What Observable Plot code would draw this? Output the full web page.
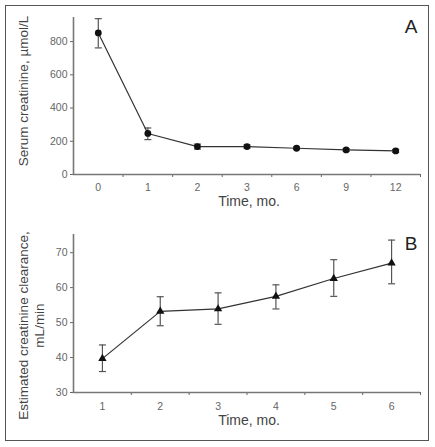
<!DOCTYPE html>
<html>
<head>
<meta charset="utf-8">
<script src="https://cdn.jsdelivr.net/npm/d3@7"></script>
<script src="https://cdn.jsdelivr.net/npm/@observablehq/plot@0.6"></script>
<style>
  body { margin: 0; background: #fff; }
  #wrap { position: relative; width: 435px; height: 447px; font-family: "Liberation Sans", Arial, Helvetica, sans-serif; }
  #frame { position: absolute; left: 5px; top: 5px; width: 422px; height: 434px; border: 1.5px solid #555; }
  .panel { position: absolute; left: 0; }
</style>
</head>
<body>
<div id="wrap"><div id="frame"></div></div>
<script>
// Panel A: serum creatinine
const monthsA = ["0", "1", "2", "3", "6", "9", "12"];
const creatMean = [852, 247, 168, 168, 158, 148, 142];
const creatLow  = [762, 210, 153, 158, 150, 140, 133];
const creatHigh = [938, 280, 183, 178, 166, 156, 151];
const yTicksA = [0, 200, 400, 600, 800];

// Panel B: estimated creatinine clearance
const monthsB = ["1", "2", "3", "4", "5", "6"];
const clrMean = [39.7, 53.2, 53.9, 57.5, 62.6, 67.0];
const clrLow  = [36.0, 49.1, 49.5, 53.9, 57.5, 61.1];
const clrHigh = [43.6, 57.4, 58.5, 60.8, 68.0, 73.6];
const yTicksB = [30, 40, 50, 60, 70];

const dataA = monthsA.map((m, i) => ({i, m, v: creatMean[i], lo: creatLow[i], hi: creatHigh[i]}));
const dataB = monthsB.map((m, i) => ({i, m, v: clrMean[i], lo: clrLow[i], hi: clrHigh[i]}));

const capSymbol = { draw(ctx) { ctx.moveTo(-3.5, 0); ctx.lineTo(3.5, 0); } };
const FONT = "'Liberation Sans', Arial, Helvetica, sans-serif";

function panel({data, labels, yDomain, yTicks, height, marginTop, marginBottom, yTitle, titleDx, titleDy, letter, symbol, r, xTitleDy, tickPad}) {
  const n = labels.length;
  const idx = d3.range(n);
  const bounds = d3.range(n).map(i => i + 0.5);
  return Plot.plot({
    width: 435,
    height,
    marginLeft: 73,
    marginRight: 15,
    marginTop,
    marginBottom,
    style: {fontFamily: FONT, background: "transparent"},
    x: {domain: [-0.5, n - 0.5], axis: null},
    y: {domain: yDomain, axis: null},
    marks: [
      Plot.axisY({ticks: yTicks, tickSize: 3, tickPadding: 3, label: null, fontSize: 10.5, color: "#666", stroke: "#666"}),
      Plot.axisX({ticks: idx, tickFormat: i => labels[i], tickSize: 0, tickPadding: tickPad, label: null, fontSize: 10.5, color: "#666"}),
      Plot.axisX({ticks: bounds, tickFormat: () => "", tickSize: 3, label: null, stroke: "#666"}),
      Plot.ruleX([-0.5], {stroke: "#777", strokeWidth: 1.6}),
      Plot.ruleY([yDomain[0]], {stroke: "#777", strokeWidth: 1.6}),
      Plot.ruleX(data, {x: "i", y1: "lo", y2: "hi", stroke: "#555", strokeWidth: 1.2}),
      Plot.dot(data, {x: "i", y: "hi", symbol: capSymbol, stroke: "#555", strokeWidth: 1.2, fill: "none"}),
      Plot.dot(data, {x: "i", y: "lo", symbol: capSymbol, stroke: "#555", strokeWidth: 1.2, fill: "none"}),
      Plot.line(data, {x: "i", y: "v", stroke: "#333", strokeWidth: 1.2}),
      Plot.dot(data, {x: "i", y: "v", symbol, r, fill: "#111", stroke: "none"}),
      Plot.text([yTitle], {frameAnchor: "left", rotate: -90, dx: titleDx, dy: titleDy, textAnchor: "middle", lineAnchor: "middle", lineHeight: 1.18, fontSize: 13.5, fill: "#444"}),
      Plot.text(["Time, mo."], {frameAnchor: "bottom", dx: 2, dy: xTitleDy, textAnchor: "middle", lineAnchor: "middle", fontSize: 14, fill: "#444"}),
      Plot.text([letter], {frameAnchor: "top-right", dx: -3, dy: 2, textAnchor: "end", lineAnchor: "top", fontSize: 19, fill: "#222"})
    ]
  });
}

const plotA = panel({
  data: dataA, labels: monthsA, yDomain: [0, 945], yTicks: yTicksA,
  height: 220, marginTop: 17, marginBottom: 46,
  yTitle: "Serum creatinine, µmol/L", titleDx: -51, titleDy: -5,
  letter: "A", symbol: "circle", r: 3.4, xTitleDy: 27, tickPad: 9
});
const plotB = panel({
  data: dataB, labels: monthsB, yDomain: [30, 75.2], yTicks: yTicksB,
  height: 227, marginTop: 14, marginBottom: 55,
  yTitle: "Estimated creatinine clearance,\nmL/min", titleDx: -43, titleDy: 12,
  letter: "B", symbol: "triangle", r: 3.1, xTitleDy: 28, tickPad: 10
});
plotA.classList.add("panel"); plotA.style.top = "0px";
plotB.classList.add("panel"); plotB.style.top = "220px";
document.getElementById("wrap").append(plotA, plotB);
</script>
</body>
</html>
